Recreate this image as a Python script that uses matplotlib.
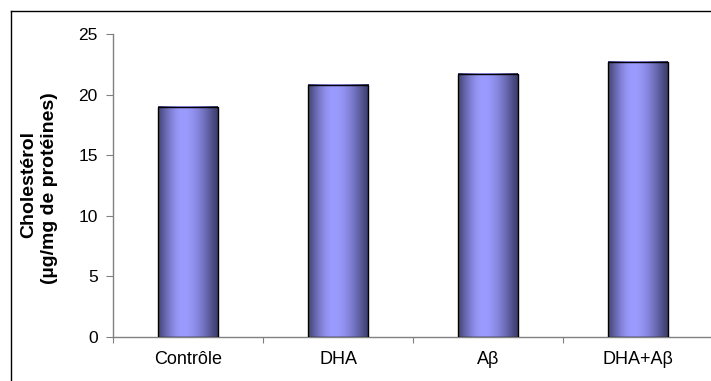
import numpy as np
import matplotlib
matplotlib.use("Agg")
import matplotlib.pyplot as plt
from matplotlib.lines import Line2D

categories = ["Contrôle", "DHA", "Aβ", "DHA+Aβ"]
values = [19.0, 20.8, 21.7, 22.7]
yticks = [0, 5, 10, 15, 20, 25]

plt.rcParams['font.family'] = ['Liberation Sans', 'DejaVu Sans']

W, H = 711, 381
fig = plt.figure(figsize=(W / 100, H / 100), dpi=100)
ax = fig.add_axes([113 / W, 44 / H, 600 / W, (337 - 34) / H])

# gradient for bars
n = 200
t = np.linspace(0, 1, n)
dark_l = np.array([70, 70, 125]) / 255
light = np.array([155, 155, 255]) / 255
dark_r = np.array([60, 60, 105]) / 255
peak = 0.42
w = np.where(t < peak, np.sin(t / peak * np.pi / 2) ** 1.2,
             np.cos((t - peak) / (1 - peak) * np.pi / 2) ** 1.1)
cols = np.where(t[:, None] < peak,
                dark_l + (light - dark_l) * w[:, None],
                dark_r + (light - dark_r) * w[:, None])
grad = cols[None, :, :]

width = 0.4
xs = np.arange(len(categories))
bars = ax.bar(xs, values, width=width, color='none', edgecolor='black',
              linewidth=1.0, zorder=3)
for b in bars:
    x0, y0 = b.get_x(), b.get_y()
    ax.imshow(grad, extent=[x0, x0 + b.get_width(), y0, y0 + b.get_height()],
              aspect='auto', zorder=2, interpolation='bilinear')

ax.set_xlim(-0.5, len(categories) - 0.5)
ax.set_ylim(0, 25)
ax.set_yticks(yticks)
ax.set_yticklabels([str(v) for v in yticks], fontsize=12.5)
ax.set_xticks(np.arange(len(categories) + 1) - 0.5)
ax.set_xticklabels([])
ax.set_xticks(xs, minor=True)
ax.set_xticklabels(categories, minor=True, fontsize=13)
ax.tick_params(axis='x', which='minor', length=0, pad=10)
ax.tick_params(axis='x', which='major', length=4, color='#808080', direction='out')
ax.tick_params(axis='y', length=5, color='#808080', direction='out', pad=6)
for s in ['top', 'right']:
    ax.spines[s].set_visible(False)
for s in ['left', 'bottom']:
    ax.spines[s].set_color('#808080')
    ax.spines[s].set_linewidth(1.0)

fig.text(29 / W, 1 - 185 / H, "Cholestérol", rotation=90, fontsize=14,
         fontweight='bold', ha='center', va='center')
fig.text(50 / W, 1 - 188 / H, "(µg/mg de protéines)", rotation=90, fontsize=14,
         fontweight='bold', ha='center', va='center')

# outer frame (top and left visible)
fig.add_artist(Line2D([10.5 / W, 10.5 / W], [0, 1 - 10.5 / H], color='black', lw=1.0,
                      transform=fig.transFigure))
fig.add_artist(Line2D([10.5 / W, 1], [1 - 10.5 / H, 1 - 10.5 / H], color='black', lw=1.0,
                      transform=fig.transFigure))

fig.savefig("out.png", dpi=100)
